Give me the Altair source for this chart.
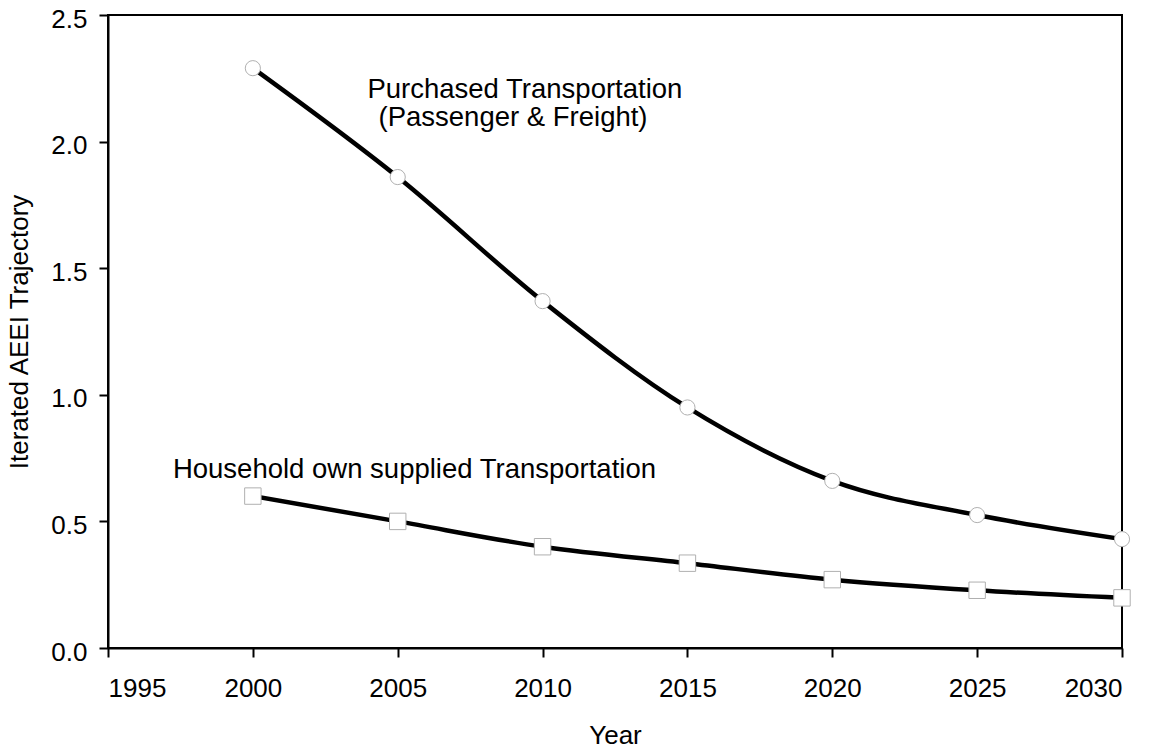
import altair as alt
import pandas as pd

years = [2000, 2005, 2010, 2015, 2020, 2025, 2030]
purchased = [2.29, 1.86, 1.37, 0.95, 0.66, 0.525, 0.43]
household = [0.60, 0.50, 0.40, 0.335, 0.27, 0.228, 0.198]

x_ticks = [1995, 2000, 2005, 2010, 2015, 2020, 2025, 2030]
y_ticks = [0.0, 0.5, 1.0, 1.5, 2.0, 2.5]

ann_text = ["Purchased Transportation", "(Passenger & Freight)", "Household own supplied Transportation"]
ann_x = [2009.39, 2008.98, 1997.24]
ann_y = [2.172, 2.062, 0.671]
ann_align = ["center", "center", "left"]

df_p = pd.DataFrame({"Year": years, "v": purchased})
df_h = pd.DataFrame({"Year": years, "v": household})
df_a = pd.DataFrame({"Year": ann_x, "v": ann_y, "t": ann_text, "a": ann_align})

FONT = "Liberation Sans"

xs = alt.Scale(domain=[1995, 2030], nice=False, zero=False)
ys = alt.Scale(domain=[0, 2.5], nice=False)

xenc = alt.X("Year:Q", scale=xs, axis=alt.Axis(values=x_ticks, format="d", title="Year",
                                                  titlePadding=21, labelPadding=18))
yenc = alt.Y("v:Q", scale=ys, axis=alt.Axis(values=y_ticks, format=".1f", labelOffset=4,
                                              title="Iterated AEEI Trajectory", titlePadding=18, labelPadding=12))

line_p = alt.Chart(df_p).mark_line(color="black", strokeWidth=4.5, interpolate="monotone").encode(x=xenc, y=yenc)
line_h = alt.Chart(df_h).mark_line(color="black", strokeWidth=4.5, interpolate="monotone").encode(x=xenc, y=yenc)
pts_p = alt.Chart(df_p).mark_point(shape="circle", filled=True, fill="white", stroke="#b0b0b0",
                                   strokeWidth=1, size=230, opacity=1).encode(x=xenc, y=yenc)
pts_h = alt.Chart(df_h).mark_point(shape="square", filled=True, fill="white", stroke="#b0b0b0",
                                   strokeWidth=1, size=270, opacity=1).encode(x=xenc, y=yenc)

txt_c = alt.Chart(df_a[df_a["a"] == "center"]).mark_text(font=FONT, fontSize=27.5, align="center",
                                                         baseline="alphabetic", color="black").encode(
    x=xenc, y=yenc, text="t:N")
txt_l = alt.Chart(df_a[df_a["a"] == "left"]).mark_text(font=FONT, fontSize=27.5, align="left",
                                                       baseline="alphabetic", color="black").encode(
    x=xenc, y=yenc, text="t:N")

chart = alt.layer(line_p, line_h, pts_p, pts_h, txt_c, txt_l).properties(
    width=1014, height=633,
    autosize=alt.AutoSizeParams(type="none"),
    padding={"left": 100, "top": 7, "right": 30, "bottom": 100},
    background="white",
).configure_view(
    stroke="black", strokeWidth=2
).configure_axis(
    grid=False, domainColor="black", domainWidth=2, tickColor="black", tickWidth=2, tickSize=9,
    labelFont=FONT, labelFontSize=26, labelColor="black",
    titleFont=FONT, titleFontSize=26, titleFontWeight="normal", titleColor="black",
)

chart.save("out.html", embed_options={"renderer": "svg", "actions": False})
